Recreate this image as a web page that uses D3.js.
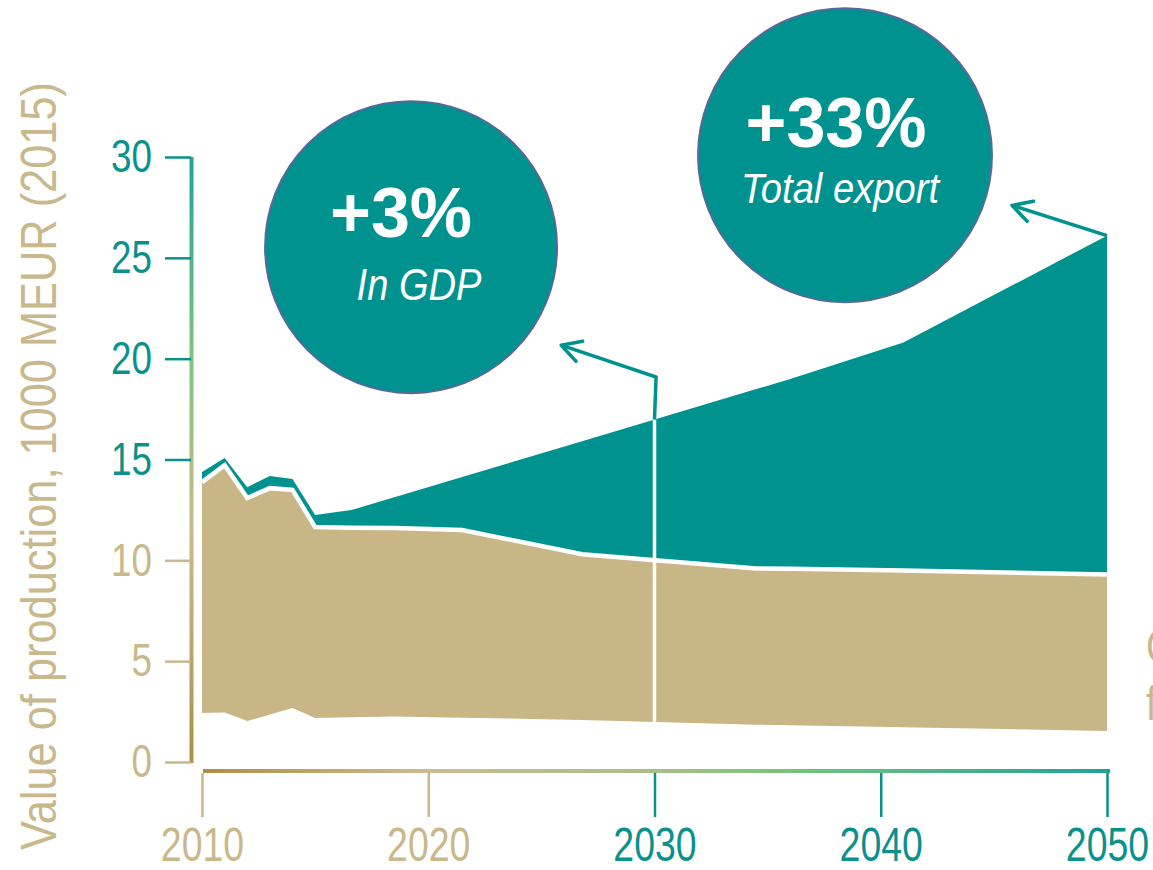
<!DOCTYPE html>
<html>
<head>
<meta charset="utf-8">
<script src="https://cdn.jsdelivr.net/npm/d3@7"></script>
<style>
  html, body { margin: 0; padding: 0; background: #fff; }
  svg { display: block; font-family: "Liberation Sans", Arial, sans-serif; }
</style>
</head>
<body>
<div id="chart"></div>
<script>
// data (1000 MEUR, 2015 prices)
var years = [2010, 2011, 2012, 2013, 2014, 2015, 2016.6, 2018.5, 2021.5, 2026.8, 2034.5, 2036, 2041, 2050]
var baseLine = [2.43, 2.45, 2.03, 2.35, 2.68, 2.18, 2.22, 2.26, 2.2, 2.08, 1.85, 1.82, 1.72, 1.54]
var domesticTop = [13.88, 14.72, 13.09, 13.58, 13.49, 11.65, 11.62, 11.6, 11.5, 10.3, 9.6, 9.58, 9.5, 9.3]
var exportTop = [14.38, 15.07, 13.63, 14.18, 14.03, 12.25, 12.49, 13.13, 14.13, 15.91, 18.49, 18.99, 20.8, 26.1]

var yTicks = [0, 5, 10, 15, 20, 25, 30]
var xTicks = [2010, 2020, 2030, 2040, 2050]

var bigLabels = ['+3%', '+33%']
var subLabels = ['In GDP', 'Total export']
var calloutYears = [2030, 2050]

var yTitle = 'Value of production, 1000 MEUR (2015)'
var sideLabels = ['Consumption', 'from']

var w = 1153
var h = 870
var teal = '#00928f'
var tan = '#c9b687'
var tealText = '#0b918c'
var tanText = '#c9b88b'

var x = d3.scaleLinear().domain([2010, 2050]).range([202, 1107])
var y = d3.scaleLinear().domain([0, 30]).range([762, 157])

var rows = years.map(function(yr, i) {
  return { year: yr, base: baseLine[i], dom: domesticTop[i], total: exportTop[i] }
})

// linear read of a series at a given year (for annotation anchors)
function at(key, yr) {
  var i = d3.bisectRight(years, yr)
  if (i <= 0) return rows[0][key]
  if (i >= rows.length) return rows[rows.length - 1][key]
  var a = rows[i - 1], b = rows[i]
  var t = (yr - a.year) / (b.year - a.year)
  return a[key] + (b[key] - a[key]) * t
}

function squeeze(sel, ratio) {
  sel.each(function() {
    var len = this.getComputedTextLength()
    d3.select(this)
      .attr('textLength', len * ratio)
      .attr('lengthAdjust', 'spacingAndGlyphs')
  })
}

var svg = d3.select('#chart')
  .append('svg')
  .attr('width', w)
  .attr('height', h)

svg.append('rect').attr('width', w).attr('height', h).attr('fill', '#fff')

var defs = svg.append('defs')

var gy = defs.append('linearGradient')
  .attr('id', 'grad-y')
  .attr('x1', '0%').attr('y1', '0%').attr('x2', '0%').attr('y2', '100%')
gy.append('stop').attr('offset', '0%').attr('stop-color', '#1fa39b')
gy.append('stop').attr('offset', '33%').attr('stop-color', '#7cc67c')
gy.append('stop').attr('offset', '62%').attr('stop-color', '#c9ba8c')
gy.append('stop').attr('offset', '100%').attr('stop-color', '#ae8f46')

var gx = defs.append('linearGradient')
  .attr('id', 'grad-x')
  .attr('x1', '0%').attr('y1', '0%').attr('x2', '100%').attr('y2', '0%')
gx.append('stop').attr('offset', '0%').attr('stop-color', '#ae8f46')
gx.append('stop').attr('offset', '25%').attr('stop-color', '#cdbb8e')
gx.append('stop').attr('offset', '50%').attr('stop-color', '#a6bf88')
gx.append('stop').attr('offset', '64%').attr('stop-color', '#78c47a')
gx.append('stop').attr('offset', '100%').attr('stop-color', '#21a19a')

// areas
var tanArea = d3.area()
  .x(function(d) { return x(d.year) })
  .y0(function(d) { return y(d.base) })
  .y1(function(d) { return y(d.dom) })

var tealArea = d3.area()
  .x(function(d) { return x(d.year) })
  .y0(function(d) { return y(d.dom) })
  .y1(function(d) { return y(d.total) })

var sepLine = d3.line()
  .x(function(d) { return x(d.year) })
  .y(function(d) { return y(d.dom) })

svg.append('path').datum(rows).attr('d', tealArea).attr('fill', teal)
svg.append('path').datum(rows).attr('d', tanArea).attr('fill', tan)
svg.append('path').datum(rows).attr('d', sepLine)
  .attr('fill', 'none').attr('stroke', '#fff').attr('stroke-width', 4.5)

// white marker at 2030
svg.append('line')
  .attr('x1', x(2030)).attr('x2', x(2030))
  .attr('y1', y(at('base', 2030))).attr('y2', y(at('total', 2030)))
  .attr('stroke', '#fff').attr('stroke-width', 3.5)

// y axis
svg.append('rect')
  .attr('x', 189.5).attr('y', y(30))
  .attr('width', 4).attr('height', y(0) - y(30) + 1)
  .attr('fill', 'url(#grad-y)')

var yAxis = svg.append('g')
  .attr('transform', 'translate(191,0)')
  .call(d3.axisLeft(y).tickValues(yTicks).tickSize(26).tickSizeOuter(0).tickPadding(13))
  .attr('font-size', null).attr('font-family', null)
yAxis.select('.domain').remove()
yAxis.selectAll('.tick line')
  .attr('stroke', function(d) { return d >= 15 ? tealText : tanText })
  .attr('stroke-width', 2.5)
yAxis.selectAll('.tick text')
  .attr('fill', function(d) { return d >= 15 ? tealText : tanText })
  .style('font-size', '46px')
  .call(squeeze, 0.8)

// x axis
svg.append('rect')
  .attr('x', 203).attr('y', 769)
  .attr('width', 907).attr('height', 4)
  .attr('fill', 'url(#grad-x)')

var xAxis = svg.append('g')
  .attr('transform', 'translate(0,773)')
  .call(d3.axisBottom(x).tickValues(xTicks).tickFormat(d3.format('d')).tickSize(44).tickSizeOuter(0).tickPadding(10))
  .attr('font-size', null).attr('font-family', null)
xAxis.select('.domain').remove()
xAxis.selectAll('.tick line')
  .attr('stroke', function(d) { return d >= 2030 ? tealText : tanText })
  .attr('stroke-width', 2.5)
xAxis.selectAll('.tick text')
  .attr('fill', function(d) { return d >= 2030 ? tealText : tanText })
  .style('font-size', '48px')
  .call(squeeze, 0.78)

// y title
svg.append('text')
  .attr('transform', 'translate(56,466) rotate(-90)')
  .attr('text-anchor', 'middle')
  .attr('fill', tanText)
  .style('font-size', '50px')
  .attr('textLength', 768)
  .attr('lengthAdjust', 'spacingAndGlyphs')
  .text(yTitle)

// cut-off labels at right edge
svg.selectAll('.side')
  .data(sideLabels)
  .enter()
  .append('text')
  .attr('class', 'side')
  .attr('x', 1146)
  .attr('y', function(d, i) { return 663 + i * 57 })
  .attr('fill', tanText)
  .style('font-size', '48px')
  .text(function(d) { return d })
  .call(squeeze, 0.8)

// callout arrows
function arrowHead(g, tx, ty, fx, fy) {
  var a = Math.atan2(fy - ty, fx - tx)
  var len = 22
  var spread = 0.5
  g.append('path')
    .attr('d', 'M' + (tx + len * Math.cos(a - spread)) + ',' + (ty + len * Math.sin(a - spread)) +
      'L' + tx + ',' + ty +
      'L' + (tx + len * Math.cos(a + spread)) + ',' + (ty + len * Math.sin(a + spread)))
    .attr('fill', 'none')
    .attr('stroke', teal)
    .attr('stroke-width', 3.5)
    .attr('stroke-linecap', 'round')
    .attr('stroke-linejoin', 'round')
}

var arrows = svg.append('g')

// +3% arrow: rises from the 2030 marker, then bends towards the bubble
var a1 = [
  [x(calloutYears[0]), y(at('total', calloutYears[0]))],
  [x(2030.07), y(19.09)],
  [x(2025.87), y(20.67)]
]
arrows.append('path')
  .attr('d', d3.line()(a1))
  .attr('fill', 'none').attr('stroke', teal).attr('stroke-width', 3.5)
arrowHead(arrows, a1[2][0], a1[2][1], a1[1][0], a1[1][1])

// +33% arrow from the 2050 end point
var a2 = [
  [x(calloutYears[1]), y(at('total', calloutYears[1]))],
  [x(2045.8), y(27.6)]
]
arrows.append('path')
  .attr('d', d3.line()(a2))
  .attr('fill', 'none').attr('stroke', teal).attr('stroke-width', 3.5)
arrowHead(arrows, a2[1][0], a2[1][1], a2[0][0], a2[0][1])

// bubbles
var bubbleAt = [[2019.24, 25.53], [2038.42, 30.09]]
var bubbleR = [146, 147]
var bigDx = [-10, -9]
var bigDy = [-10, -8]
var subDx = [8, -5]
var subDy = [53, 48]
var subSize = [44, 42]
var subLen = [125, 198]

var bubbles = svg.selectAll('.bubble')
  .data(bigLabels)
  .enter()
  .append('g')
  .attr('class', 'bubble')
  .attr('transform', function(d, i) {
    return 'translate(' + x(bubbleAt[i][0]) + ',' + y(bubbleAt[i][1]) + ')'
  })

bubbles.append('circle')
  .attr('r', function(d, i) { return bubbleR[i] })
  .attr('fill', teal)
  .attr('stroke', '#56699a')
  .attr('stroke-width', 2)

bubbles.append('text')
  .attr('x', function(d, i) { return bigDx[i] })
  .attr('y', function(d, i) { return bigDy[i] })
  .attr('text-anchor', 'middle')
  .attr('fill', '#fff')
  .style('font-size', '70px')
  .style('font-weight', 'bold')
  .text(function(d) { return d })

bubbles.append('text')
  .attr('x', function(d, i) { return subDx[i] })
  .attr('y', function(d, i) { return subDy[i] })
  .attr('text-anchor', 'middle')
  .attr('fill', '#fff')
  .style('font-size', function(d, i) { return subSize[i] + 'px' })
  .style('font-style', 'italic')
  .attr('textLength', function(d, i) { return subLen[i] })
  .attr('lengthAdjust', 'spacingAndGlyphs')
  .text(function(d, i) { return subLabels[i] })
</script>
</body>
</html>
